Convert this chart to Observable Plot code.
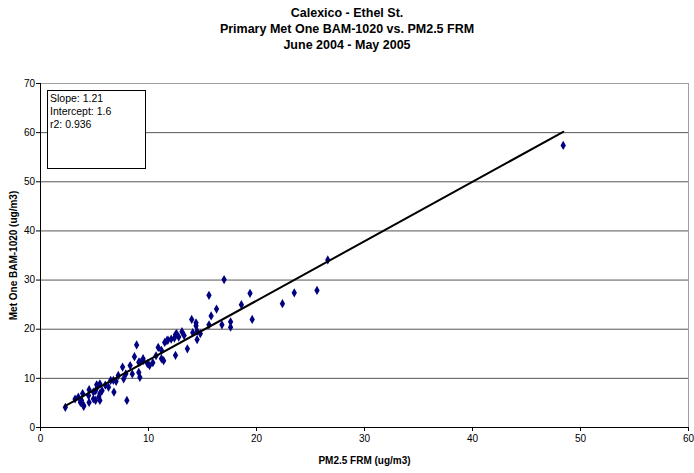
<!DOCTYPE html>
<html>
<head>
<meta charset="utf-8">
<script src="https://cdn.jsdelivr.net/npm/d3@7"></script>
<script src="https://cdn.jsdelivr.net/npm/@observablehq/plot@0.6"></script>
<style>
  html, body { margin: 0; padding: 0; background: #fff; overflow: hidden; }
  body { width: 694px; height: 473px; position: relative; font-family: "Liberation Sans", Arial, sans-serif; }
  #title { height: 58px; box-sizing: border-box; padding-top: 5px; width: 694px;
           text-align: center; font-weight: bold; font-size: 12.5px; line-height: 16px; color: #000; }
  #stats { position: absolute; left: 47px; top: 90px; width: 95px; height: 76px; border: 1px solid #000;
           background: #fff; font-size: 10.5px; line-height: 13px; padding: 1px 0 0 2px; box-sizing: content-box; }
  svg [aria-label="y-axis label"] text, svg [aria-label="x-axis label"] text,
  svg [aria-label="y-axis label"], svg [aria-label="x-axis label"] { font-weight: bold; }
</style>
</head>
<body>
<div id="title"></div>
<div id="chart"></div>
<div id="stats"></div>
<script>
const titleLines = ["Calexico - Ethel St.", "Primary Met One BAM-1020 vs. PM2.5 FRM", "June 2004 - May 2005"];
const xLabel = "PM2.5 FRM (ug/m3)";
const yLabel = "Met One BAM-1020 (ug/m3)";
const statLines = ["Slope: 1.21", "Intercept: 1.6", "r2: 0.936"];
const slope = 1.21;
const intercept = 1.6;
const xTicks = [0, 10, 20, 30, 40, 50, 60];
const yTicks = [0, 10, 20, 30, 40, 50, 60, 70];

// PM2.5 FRM (x) values
const frm = [
  17.0, 15.6, 19.4, 18.6, 16.3, 15.8, 22.4, 23.5, 25.6, 26.6,
  19.6, 17.6, 17.6, 16.8, 15.6, 14.0, 14.4, 14.4, 14.1, 14.8,
  14.5, 13.1, 13.3, 12.5, 12.4, 14.5, 48.4,
  2.3, 8.0, 8.9, 8.7, 7.6, 6.8, 6.3, 6.5, 7.0, 7.2,
  7.7, 8.3, 8.5, 9.2, 9.1, 9.5, 9.9, 10.1, 10.9, 11.2,
  11.4, 11.7, 12.1, 12.5, 12.6,
  5.5, 5.4, 4.0, 3.7, 4.5, 3.5, 3.9, 4.5, 4.9, 5.2,
  5.5, 5.7, 4.9, 3.2,
  9.1, 7.9, 6.75, 5.1, 5.5, 5.1, 4.45, 4.0, 3.8, 5.3,
  11.5, 11.8, 11.2, 9.5, 9.2, 12.8, 6.0, 10.4, 10.7, 13.6
];
// Met One BAM-1020 (y) values
const bam = [
  30.1, 26.9, 27.3, 25.0, 24.1, 22.7, 25.2, 27.4, 27.9, 34.1,
  22.0, 21.5, 20.4, 20.9, 20.9, 22.0, 21.3, 20.7, 19.3, 19.1,
  19.6, 19.5, 18.7, 18.9, 18.2, 17.9, 57.4,
  4.1, 5.5, 16.8, 14.4, 12.3, 7.2, 8.2, 9.6, 9.4, 10.6,
  9.9, 12.6, 10.9, 10.2, 11.2, 14.0, 13.0, 12.6, 16.3, 15.7,
  13.6, 17.7, 18.0, 14.7, 19.1,
  5.5, 6.2, 4.3, 5.1, 5.1, 6.2, 6.9, 7.7, 7.2, 8.7,
  8.9, 7.5, 5.8, 5.8,
  13.3, 10.9, 9.6, 7.5, 6.9, 5.5, 6.5, 4.5, 5.5, 8.4,
  17.3, 17.8, 14.0, 13.6, 13.3, 18.4, 8.6, 13.2, 14.6, 16.0
];

document.getElementById("title").innerHTML = titleLines.map(t => `<div>${t}</div>`).join("");
document.getElementById("stats").innerHTML = statLines.map(t => `<div>${t}</div>`).join("");

const pts = frm.map((x, i) => ({x, y: bam[i]}));
const [xmin, xmax] = d3.extent(frm);
const fit = [xmin, xmax].map(x => ({x, y: slope * x + intercept}));

const chart = Plot.plot({
  width: 694,
  height: 415,
  marginTop: 25,
  marginBottom: 46,
  marginLeft: 40,
  marginRight: 6,
  style: {fontFamily: "Liberation Sans, Arial, sans-serif", fontSize: "10px", color: "#000", background: "#fff"},
  x: {domain: [0, 60]},
  y: {domain: [0, 70]},
  marks: [
    Plot.frame({stroke: "#a0a0a0"}),
    Plot.ruleY(yTicks.filter(d => d > 0 && d < 70), {stroke: "#555", strokeWidth: 1}),
    Plot.axisX({ticks: xTicks, tickSize: 4, tickPadding: 3, fontSize: 10, label: xLabel,
                labelAnchor: "center", labelArrow: "none", labelOffset: 36, tickFormat: d3.format("d")}),
    Plot.axisY({ticks: yTicks, tickSize: 4, tickPadding: 1.5, fontSize: 10, label: yLabel,
                labelAnchor: "center", labelArrow: "none", labelOffset: 31, tickFormat: d3.format("d")}),
    Plot.ruleX([0], {stroke: "#000"}),
    Plot.ruleY([0], {stroke: "#000"}),
    Plot.dot(pts, {x: "x", y: "y", symbol: "diamond", r: 2.8, fill: "#000080", stroke: "none"}),
    Plot.line(fit, {x: "x", y: "y", stroke: "#000", strokeWidth: 2})
  ]
});
document.getElementById("chart").appendChild(chart);
</script>
</body>
</html>
